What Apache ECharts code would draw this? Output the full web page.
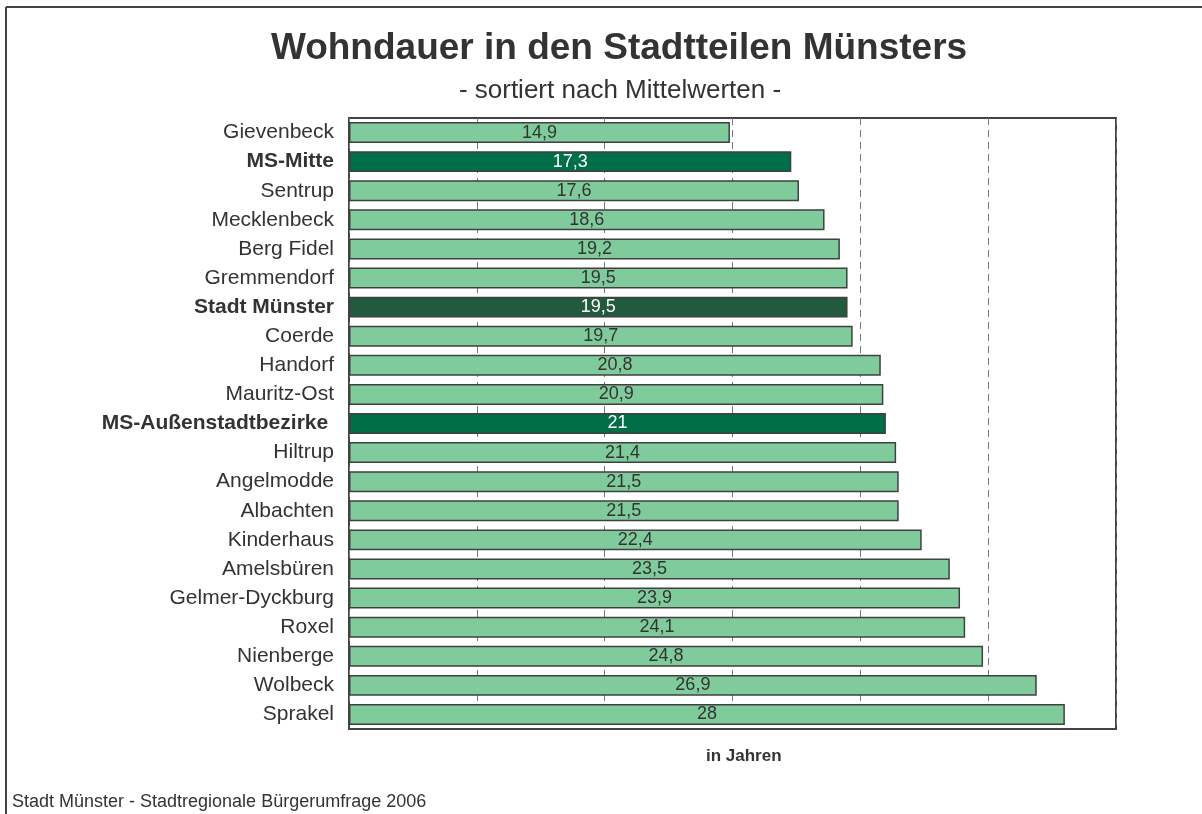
<!DOCTYPE html>
<html>
<head>
<meta charset="utf-8">
<script src="https://cdn.jsdelivr.net/npm/echarts@6/dist/echarts.min.js"></script>
<style>html,body{margin:0;padding:0;background:#fff}#c{width:1202px;height:814px}</style>
</head>
<body>
<div id="c"></div>
<script>
const categories = ["Gievenbeck","MS-Mitte","Sentrup","Mecklenbeck","Berg Fidel","Gremmendorf","Stadt Münster","Coerde","Handorf","Mauritz-Ost","MS-Außenstadtbezirke","Hiltrup","Angelmodde","Albachten","Kinderhaus","Amelsbüren","Gelmer-Dyckburg","Roxel","Nienberge","Wolbeck","Sprakel"];
const values = [14.9,17.3,17.6,18.6,19.2,19.5,19.5,19.7,20.8,20.9,21,21.4,21.5,21.5,22.4,23.5,23.9,24.1,24.8,26.9,28];
const highlightMid = ["MS-Mitte","MS-Außenstadtbezirke"];
const highlightDark = ["Stadt Münster"];
const titleText = "Wohndauer in den Stadtteilen Münsters";
const subtitleText = "- sortiert nach Mittelwerten -";
const axisName = "in Jahren";
const sourceText = "Stadt Münster - Stadtregionale Bürgerumfrage 2006";

const FONT = "'Liberation Sans', Arial, sans-serif";
const chart = echarts.init(document.getElementById('c'));
const data = values.map((v, i) => {
  const c = categories[i];
  let color = '#80CB9B', lbl = '#333';
  if (highlightMid.includes(c)) { color = '#006E46'; lbl = '#fff'; }
  if (highlightDark.includes(c)) { color = '#215A3E'; lbl = '#fff'; }
  return { value: v, itemStyle: { color }, label: { color: lbl } };
});
chart.setOption({
  animation: false,
  textStyle: { fontFamily: FONT },
  title: [
    { text: titleText, left: 614, top: 25, textAlign: 'center',
      textStyle: { fontSize: 37, fontWeight: 'bold', color: '#333', fontFamily: FONT } },
    { text: subtitleText, left: 615, top: 73, textAlign: 'center',
      textStyle: { fontSize: 26, fontWeight: 'normal', color: '#333', fontFamily: FONT } }
  ],
  grid: { left: 349, right: 86, top: 118, bottom: 85, show: true, borderColor: '#444', borderWidth: 2, backgroundColor: 'transparent' },
  xAxis: {
    type: 'value', min: 0, max: 30, interval: 5,
    axisLabel: { show: false }, axisTick: { show: false }, axisLine: { show: false },
    splitLine: { show: true, lineStyle: { color: '#777', type: [7, 5], width: 1 } }
  },
  yAxis: {
    type: 'category', data: categories, inverse: true,
    axisLine: { show: false }, axisTick: { show: false },
    axisLabel: {
      margin: 15, fontSize: 21, color: '#333', fontFamily: FONT,
      formatter: (v) => (highlightMid.includes(v) || highlightDark.includes(v)) ? '{b|' + v + (v === 'MS-Außenstadtbezirke' ? ' ' : '') + '}' : v,
      rich: { b: { fontWeight: 'bold', fontSize: 21, color: '#333', fontFamily: FONT } }
    }
  },
  series: [{
    type: 'bar', data: data, barWidth: '72%',
    itemStyle: { borderColor: '#404040', borderWidth: 1.5 },
    label: { show: true, position: 'inside', fontSize: 18, fontFamily: FONT,
      formatter: (p) => String(p.value).replace('.', ',') }
  }],
  graphic: [
    { type: 'line', shape: { x1: 6, y1: 7, x2: 1202, y2: 7 }, style: { stroke: '#444', lineWidth: 2 } },
    { type: 'line', shape: { x1: 6, y1: 7, x2: 6, y2: 814 }, style: { stroke: '#444', lineWidth: 2 } },
    { type: 'text', left: 706, top: 748, style: { text: axisName, font: 'bold 17px ' + FONT, fill: '#333' } },
    { type: 'text', left: 12, top: 793, style: { text: sourceText, font: '18px ' + FONT, fill: '#333' } }
  ]
});
</script>
</body>
</html>
